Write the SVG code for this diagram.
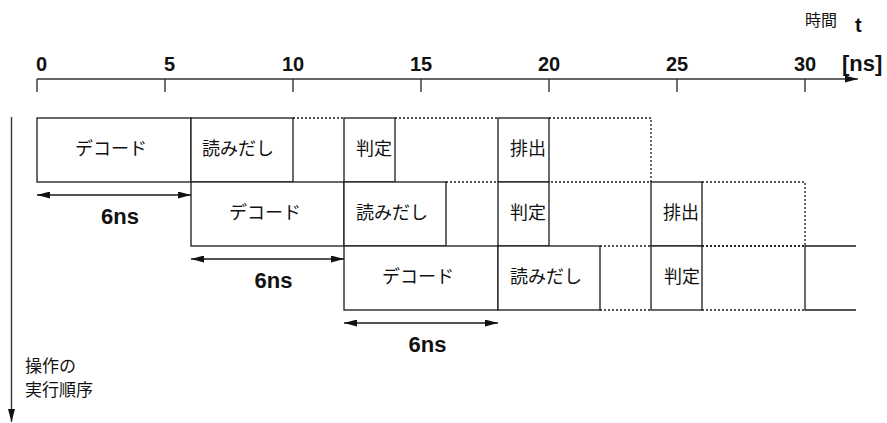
<svg xmlns="http://www.w3.org/2000/svg" width="887" height="423" viewBox="0 0 887 423">
  <style>
    .box { fill: #fff; stroke: #1a1a1a; stroke-width: 1.3; }
    .sol { stroke: #1a1a1a; stroke-width: 1.3; fill: none; }
    .dot { stroke: #1a1a1a; stroke-width: 1.3; stroke-dasharray: 2 2; fill: none; }
    .ax { stroke: #333; stroke-width: 1.4; fill: none; }
    .jp { font-family: "Noto Sans CJK JP", "Noto Sans", sans-serif; font-size: 18px; fill: #111; }
    .jps { font-family: "Noto Sans CJK JP", "Noto Sans", sans-serif; font-size: 16px; fill: #111; }
    .num { font-family: "Liberation Sans", Arial, sans-serif; font-weight: bold; font-size: 20px; fill: #111; }
    .lbl { font-family: "Liberation Sans", Arial, sans-serif; font-weight: bold; font-size: 22px; fill: #111; text-anchor: middle; }
  </style>
  <defs>
    <marker id="ah" markerUnits="userSpaceOnUse" markerWidth="13" markerHeight="7" refX="13" refY="3.5" orient="auto-start-reverse">
      <path d="M0,0 L13,3.5 L0,7 z" fill="#111"/>
    </marker>
  </defs>

  <!-- time axis -->
  <g id="axis">
    <line class="ax" x1="37" y1="79" x2="858" y2="79" marker-end="url(#ah)"/>
    <path class="ax" d="M37,79V92 M165,79V92 M293,79V92 M421,79V92 M549,79V92 M677,79V92 M805,79V92"/>
    <text class="num" x="36" y="71">0</text>
    <text class="num" x="164" y="71">5</text>
    <text class="num" x="293" y="71" text-anchor="middle">10</text>
    <text class="num" x="421" y="71" text-anchor="middle">15</text>
    <text class="num" x="549" y="71" text-anchor="middle">20</text>
    <text class="num" x="677" y="71" text-anchor="middle">25</text>
    <text class="num" x="805" y="71" text-anchor="middle">30</text>
    <text class="num" x="842" y="71" style="font-size:22px">[ns]</text>
    <text class="jps" x="805" y="26">時間</text>
    <text class="num" x="855" y="32">t</text>
  </g>

  <!-- order axis -->
  <g id="order-axis">
    <line class="ax" x1="11.5" y1="117" x2="11.5" y2="422" marker-end="url(#ah)"/>
    <text class="jps" x="25" y="372" style="font-size:17px">操作の</text>
    <text class="jps" x="25" y="396" style="font-size:17px">実行順序</text>
  </g>

  <!-- row 1 -->
  <g id="row1">
    <g id="r1-decode"><rect class="box" x="37" y="118" width="154" height="64"/><text class="jp" x="75" y="155">デコード</text></g>
    <g id="r1-read"><rect class="box" x="191" y="118" width="102" height="64"/><text class="jp" x="202" y="155">読みだし</text></g>
    <path class="dot" d="M293,118H344"/>
    <g id="r1-judge"><rect class="box" x="344" y="118" width="51" height="64"/><text class="jp" x="356" y="155">判定</text></g>
    <path class="dot" d="M395,118H498"/>
    <g id="r1-out"><rect class="box" x="498" y="118" width="51" height="64"/><text class="jp" x="510" y="155">排出</text></g>
    <path class="dot" d="M549,118H651V182H549"/>
  </g>

  <!-- row 2 -->
  <g id="row2">
    <g id="r2-decode"><rect class="box" x="191" y="182" width="153" height="64"/><text class="jp" x="229" y="219">デコード</text></g>
    <g id="r2-read"><rect class="box" x="344" y="182" width="102" height="64"/><text class="jp" x="356" y="219">読みだし</text></g>
    <path class="dot" d="M446,182H498"/>
    <g id="r2-judge"><rect class="box" x="498" y="182" width="51" height="64"/><text class="jp" x="510" y="219">判定</text></g>
    <g id="r2-out"><rect class="box" x="651" y="182" width="51" height="64"/><text class="jp" x="663" y="219">排出</text></g>
    <path class="dot" d="M702,182H805V246H702"/>
  </g>

  <!-- row 3 -->
  <g id="row3">
    <g id="r3-decode"><rect class="box" x="344" y="246" width="154" height="64"/><text class="jp" x="382" y="283">デコード</text></g>
    <g id="r3-read"><rect class="box" x="498" y="246" width="102" height="64"/><text class="jp" x="510" y="283">読みだし</text></g>
    <path class="dot" d="M600,246H651 M600,310H651"/>
    <g id="r3-judge"><rect class="box" x="651" y="246" width="51" height="64"/><text class="jp" x="664" y="283">判定</text></g>
    <path class="dot" d="M702,246H805 M702,310H805"/>
    <g id="r3-next"><path class="sol" d="M856,246H805V310H856"/></g>
  </g>

  <!-- connectors: 6ns spans -->
  <g id="connectors">
    <line class="sol" x1="37" y1="195" x2="191" y2="195" marker-start="url(#ah)" marker-end="url(#ah)"/>
    <line class="sol" x1="191" y1="259" x2="344" y2="259" marker-start="url(#ah)" marker-end="url(#ah)"/>
    <line class="sol" x1="344" y1="323" x2="498" y2="323" marker-start="url(#ah)" marker-end="url(#ah)"/>
  </g>
  <g id="span-labels">
    <text class="lbl" x="120" y="224">6ns</text>
    <text class="lbl" x="273.5" y="288">6ns</text>
    <text class="lbl" x="427.5" y="352">6ns</text>
  </g>
</svg>
